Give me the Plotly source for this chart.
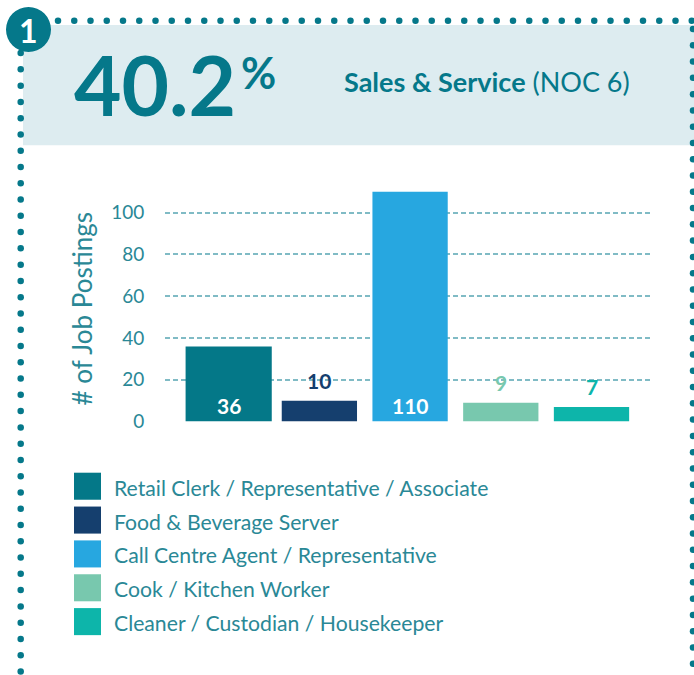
import plotly.graph_objects as go

# ---------------- data ----------------
categories = [
    "Retail Clerk / Representative / Associate",
    "Food & Beverage Server",
    "Call Centre Agent / Representative",
    "Cook / Kitchen Worker",
    "Cleaner / Custodian / Housekeeper",
]
postings = [36, 10, 110, 9, 7]
y_ticks = [0, 20, 40, 60, 80, 100]
headline_value = "40.2"
headline_title = "Sales & Service"
headline_sub = "(NOC 6)"
axis_title = "# of Job Postings"

# ---------------- styles ----------------
W, H = 694, 675          # design coordinates (reference pixels)
FIG_H = 687              # rendered css height (capture is compressed to 675)
FONT = "Lato"
TEAL = "#05788A"
TEXT = "#2A8896"
GRID = "#80BBC5"
BAND = "#DDECF0"
bar_colors = ["#047888", "#153F6E", "#27A7E0", "#78C8AE", "#0DB5AA"]
bar_widths = [0.95, 0.83, 0.83, 0.83, 0.83]
label_inside = [True, False, True, False, False]
label_colors = ["#FFFFFF", "#153F6E", "#FFFFFF", "#78C8AE", "#0DB5AA"]

# plot area in design pixels
PX_L, PX_R = 165, 650
Y0_PX = 421
PX_PER_UNIT = 2.087
Y_MAX = 112
top_px = Y0_PX - Y_MAX * PX_PER_UNIT

fig = go.Figure()

fig.add_trace(go.Bar(
    x=categories, y=postings, marker=dict(color=bar_colors, line=dict(width=0)),
    width=bar_widths, showlegend=False, hoverinfo="x+y",
    xaxis="x", yaxis="y",
))

# ---------- decorative dotted border (design-pixel overlay axes) ----------
dots_x, dots_y = [], []
step = 16.25
x = 58.0
while x <= W:
    dots_x.append(x); dots_y.append(20.7); x += step
y = 53.0
while y <= H - 3:
    dots_x.append(20.7); dots_y.append(y); y += step
y = 29.0
while y <= H - 3:
    dots_x.append(693.0); dots_y.append(y); y += step

fig.add_trace(go.Scatter(
    x=dots_x, y=dots_y, mode="markers",
    marker=dict(size=6.5, color=TEAL, line=dict(width=0)),
    xaxis="x2", yaxis="y2", showlegend=False, hoverinfo="skip",
    cliponaxis=True,
))

shapes = [
    dict(type="rect", xref="x2", yref="y2", x0=23, x1=W, y0=25, y1=145,
         fillcolor=BAND, line=dict(width=0), layer="below"),
    dict(type="circle", xref="x2", yref="y2", x0=6, x1=51, y0=7, y1=52,
         fillcolor=TEAL, line=dict(width=0), layer="above"),
]

annotations = [
    dict(text="<b>1</b>", x=28.5, y=30, xref="x2", yref="y2", showarrow=False,
         font=dict(family=FONT, size=32, color="white")),
    dict(text=f"<b>{headline_value}</b>", x=72, y=84, xref="x2", yref="y2",
         xanchor="left", yanchor="middle", showarrow=False,
         font=dict(family=FONT, size=82, color=TEAL)),
    dict(text="<b>%</b>", x=239, y=72, xref="x2", yref="y2",
         xanchor="left", yanchor="middle", showarrow=False,
         font=dict(family=FONT, size=43, color=TEAL)),
    dict(text=f"<b>{headline_title}</b> {headline_sub}", x=342, y=81, xref="x2", yref="y2",
         xanchor="left", yanchor="middle", showarrow=False,
         font=dict(family=FONT, size=27, color=TEAL)),
    dict(text=axis_title, x=82, y=309, xref="x2", yref="y2", textangle=-90,
         xanchor="center", yanchor="middle", showarrow=False,
         font=dict(family=FONT, size=26, color=TEXT)),
]

# bar value labels
for cat, val, inside, col in zip(categories, postings, label_inside, label_colors):
    annotations.append(dict(
        text=f"<b>{val}</b>", x=cat, y=0 if inside else val, xref="x", yref="y",
        yanchor="middle", yshift=16 if inside else 20, showarrow=False,
        font=dict(family=FONT, size=21, color=col),
    ))

# legend (drawn manually)
LEG_TOP = 472
LEG_STEP = 33.8
for i, (cat, col) in enumerate(zip(categories, bar_colors)):
    t = LEG_TOP + i * LEG_STEP
    shapes.append(dict(type="rect", xref="x2", yref="y2", x0=74, x1=101, y0=t, y1=t + 27,
                       fillcolor=col, line=dict(width=0)))
    annotations.append(dict(text=cat, x=112, y=t + 15, xref="x2", yref="y2",
                            xanchor="left", yanchor="middle", showarrow=False,
                            font=dict(family=FONT, size=21.2, color=TEXT)))

fig.update_layout(
    width=W, height=FIG_H, autosize=False,
    margin=dict(l=0, r=0, t=0, b=0, pad=0),
    paper_bgcolor="white", plot_bgcolor="rgba(0,0,0,0)",
    font=dict(family=FONT, color=TEXT),
    bargap=0.1,
    xaxis=dict(domain=[PX_L / W, PX_R / W], range=[-0.702, 4.645],
               showticklabels=False, showgrid=False, zeroline=False,
               showline=False, ticks="", fixedrange=True),
    yaxis=dict(domain=[(H - Y0_PX) / H, (H - top_px) / H], range=[0, Y_MAX],
               tickvals=y_ticks, showgrid=True, gridcolor=GRID, gridwidth=1.5,
               griddash="5px,3px", zeroline=False, showline=False,
               ticks="outside", ticklen=16, tickcolor="rgba(0,0,0,0)",
               tickfont=dict(family=FONT, size=19, color=TEXT), fixedrange=True),
    xaxis2=dict(domain=[0, 1], range=[0, W], visible=False, anchor="y2", fixedrange=True),
    yaxis2=dict(domain=[0, 1], range=[H, 0], visible=False, anchor="x2", fixedrange=True),
    shapes=shapes,
    annotations=annotations,
)

post = (
    "document.documentElement.style.margin='0px';"
    "document.body.style.margin='0px';"
    "document.body.style.padding='0px';"
)
fig.write_html("out.html", config={"displayModeBar": False, "responsive": False},
               post_script=post)
